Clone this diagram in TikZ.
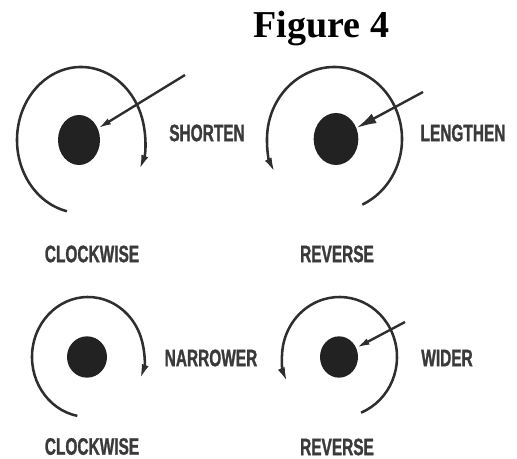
\documentclass[tikz,border=0pt]{standalone}
\usepackage{fontspec}
\usetikzlibrary{shapes.geometric,arrows.meta}
\newfontfamily\titlefont{Liberation Serif}
\newfontfamily\labelfont[FakeStretch=0.65,FakeBold=1.2]{Liberation Sans}
\definecolor{ink}{HTML}{2E2E2E}
\definecolor{dotc}{HTML}{222222}
\definecolor{txt}{HTML}{3A3A3A}
\begin{document}
\begin{tikzpicture}[x=0.75pt,y=-0.75pt,
  arcline/.style={draw=ink,line width=1.9pt,-{Latex[length=11pt,width=5.5pt]}},
  pointer/.style={draw=ink,line width=1.8pt,-{Latex[length=10pt,width=5pt]}},
  bigpointer/.style={draw=ink,line width=1.8pt,-{Latex[length=15pt,width=8pt]}},
  dot/.style={ellipse,fill=dotc,draw=none,inner sep=0pt},
  lbl/.style={font=\labelfont\bfseries\fontsize{17.8}{20}\selectfont,text=txt,inner sep=0pt}]
\useasboundingbox (0,0) rectangle (517,459);
\node[font=\titlefont\bfseries\fontsize{28.5}{32}\selectfont,anchor=base,inner sep=0pt] (title) at (321.5,38) {Figure 4};
% top left
\node[dot,minimum width=31.5pt,minimum height=37.5pt] (d1) at (79,140) {};
\draw[arcline] (81,140) ++(102.7:64 and 73) arc[start angle=102.7,end angle=384,x radius=64,y radius=73];
\coordinate (p1) at (185,75);
\draw[pointer] (p1) -- (d1);
\node[lbl] (shorten) at (207,133) {SHORTEN};
\node[lbl] (cw1) at (92,254) {CLOCKWISE};
% top right
\node[dot,minimum width=33.5pt,minimum height=39pt] (d2) at (336,139) {};
\draw[arcline] (334.5,139) ++(65.6:67.5 and 72) arc[start angle=65.6,end angle=-207.6,x radius=67.5,y radius=72];
\coordinate (p2) at (423,92);
\draw[bigpointer] (p2) -- (d2);
\node[lbl] (lengthen) at (463,133) {LENGTHEN};
\node[lbl] (rev1) at (337,254) {REVERSE};
% bottom left
\node[dot,minimum width=30pt,minimum height=31pt] (d3) at (87,357) {};
\draw[arcline] (88,357) ++(101:56 and 60) arc[start angle=101,end angle=381.4,x radius=56,y radius=60];
\node[lbl] (narrower) at (211,358) {NARROWER};
\node[lbl] (cw2) at (92,446.5) {CLOCKWISE};
% bottom right
\node[dot,minimum width=28.5pt,minimum height=31pt] (d4) at (339,357) {};
\draw[arcline] (339.5,357) ++(68:57.5 and 60) arc[start angle=68,end angle=-204.5,x radius=57.5,y radius=60];
\coordinate (p4) at (405,322);
\draw[pointer] (p4) -- (d4);
\node[lbl] (wider) at (447,358) {WIDER};
\node[lbl] (rev2) at (337,447) {REVERSE};
\end{tikzpicture}
\end{document}
